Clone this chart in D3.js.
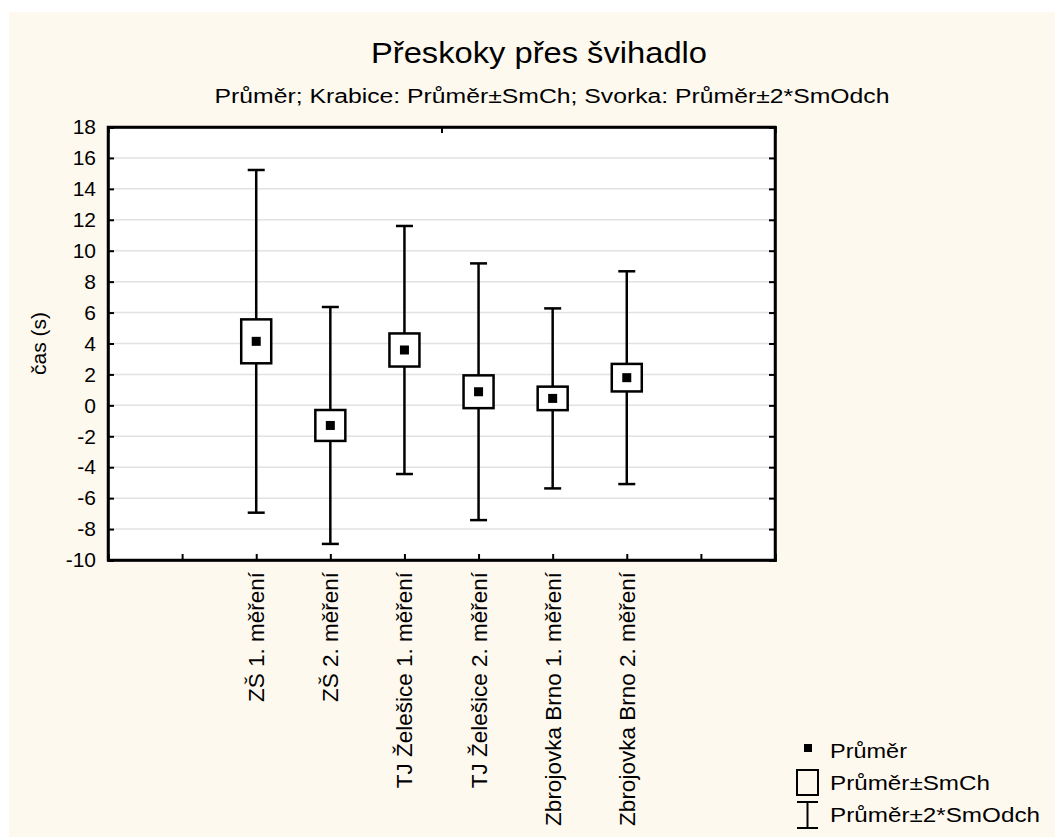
<!DOCTYPE html>
<html><head><meta charset="utf-8">
<script src="https://cdn.jsdelivr.net/npm/d3@7"></script>
<style>html,body{margin:0;padding:0;background:#fff}svg{display:block}</style>
</head><body>
<svg id="chart" width="1055" height="837"></svg>
<script>
const categories = ["ZŠ 1. měření","ZŠ 2. měření","TJ Želešice 1. měření","TJ Želešice 2. měření","Zbrojovka Brno 1. měření","Zbrojovka Brno 2. měření"];
const means = [4.14, -1.30, 3.58, 0.88, 0.45, 1.79];
const stdErr = [1.42, 1.00, 1.07, 1.06, 0.76, 0.89];
const stdDev = [5.54, 3.83, 4.01, 4.15, 2.91, 3.44];
const yTicks = [-10,-8,-6,-4,-2,0,2,4,6,8,10,12,14,16,18];
const titleText = "Přeskoky přes švihadlo";
const subtitleText = "Průměr; Krabice: Průměr±SmCh; Svorka: Průměr±2*SmOdch";
const yLabel = "čas (s)";
const legendLabels = ["Průměr","Průměr±SmCh","Průměr±2*SmOdch"];

const svg = d3.select("#chart");
const font = "Liberation Sans, Arial, sans-serif";
svg.append("rect").attr("x",9).attr("y",12).attr("width",1046).attr("height",825).attr("fill","#fef9ef");

const L=108, R=775, T=127, B=560;
const x = d3.scaleLinear().domain([0,9]).range([L,R]);
const y = d3.scaleLinear().domain([-10,18]).range([B,T]);

svg.append("rect").attr("x",L).attr("y",T).attr("width",R-L).attr("height",B-T).attr("fill","#fff");

// grid
svg.append("g").selectAll("line").data(yTicks.filter(v=>v>-10&&v<18)).join("line")
  .attr("x1",L).attr("x2",R).attr("y1",d=>y(d)).attr("y2",d=>y(d))
  .attr("stroke","#e2e2e2").attr("stroke-width",1.5);

// axes
const gl = svg.append("g").attr("transform",`translate(${L},0)`)
  .call(d3.axisLeft(y).tickValues(yTicks).tickSize(-6).tickPadding(12).tickFormat(d=>String(d)));
const gr = svg.append("g").attr("transform",`translate(${R},0)`)
  .call(d3.axisRight(y).tickValues(yTicks).tickSize(-6).tickFormat(""));
const gb = svg.append("g").attr("transform",`translate(0,${B})`)
  .call(d3.axisBottom(x).tickValues([1,2,3,4,5,6,7,8]).tickSize(-6).tickFormat(""));
const gt = svg.append("g").attr("transform",`translate(0,${T})`)
  .call(d3.axisTop(x).tickValues([4.5]).tickSize(-6).tickFormat(""));
[gl,gr,gb,gt].forEach(g=>{
  g.select(".domain").attr("stroke","#000").attr("stroke-width",2.5);
  g.selectAll(".tick line").attr("stroke","#000").attr("stroke-width",2);
});
gl.selectAll(".tick text").attr("font-family",font).attr("font-size",21).attr("fill","#000");
svg.append("rect").attr("x",L).attr("y",T).attr("width",R-L).attr("height",B-T)
  .attr("fill","none").attr("stroke","#000").attr("stroke-width",2.5);

// x labels
svg.append("g").selectAll("text").data(categories).join("text")
  .attr("transform",(d,i)=>`translate(${x(i+2)+8},${B+12}) rotate(-90)`)
  .attr("text-anchor","end").attr("font-family",font).attr("font-size",22.5).text(d=>d);

// marks
const data = categories.map((c,i)=>({i, m:means[i], se:stdErr[i], sd:stdDev[i]}));
const g = svg.append("g").attr("stroke","#000").attr("stroke-width",2.5);
data.forEach(d=>{
  const cx = x(d.i+2);
  g.append("line").attr("x1",cx).attr("x2",cx).attr("y1",y(d.m+2*d.sd)).attr("y2",y(d.m-2*d.sd));
  g.append("line").attr("x1",cx-8.5).attr("x2",cx+8.5).attr("y1",y(d.m+2*d.sd)).attr("y2",y(d.m+2*d.sd));
  g.append("line").attr("x1",cx-8.5).attr("x2",cx+8.5).attr("y1",y(d.m-2*d.sd)).attr("y2",y(d.m-2*d.sd));
  g.append("rect").attr("x",cx-15).attr("width",30).attr("y",y(d.m+d.se)).attr("height",y(d.m-d.se)-y(d.m+d.se)).attr("fill","#fff");
  g.append("rect").attr("x",cx-4.5).attr("y",y(d.m)-4.5).attr("width",9).attr("height",9).attr("fill","#000").attr("stroke","none");
});

// titles
svg.append("text").attr("x",539).attr("y",63).attr("text-anchor","middle")
  .attr("font-family",font).attr("font-size",29).attr("textLength",336).attr("lengthAdjust","spacingAndGlyphs").text(titleText);
svg.append("text").attr("x",552).attr("y",103).attr("text-anchor","middle")
  .attr("font-family",font).attr("font-size",20).attr("textLength",675).attr("lengthAdjust","spacingAndGlyphs").text(subtitleText);
svg.append("text").attr("transform",`translate(46,${(T+B)/2}) rotate(-90)`).attr("text-anchor","middle")
  .attr("font-family",font).attr("font-size",21).text(yLabel);

// legend
const legendLen = [77,160,210];
const lg = svg.append("g");
lg.append("rect").attr("x",804).attr("y",744).attr("width",8).attr("height",8).attr("fill","#000");
lg.append("rect").attr("x",797).attr("y",770).attr("width",21).attr("height",25).attr("fill","none").attr("stroke","#000").attr("stroke-width",2);
lg.append("line").attr("x1",807.5).attr("x2",807.5).attr("y1",802).attr("y2",828).attr("stroke","#000").attr("stroke-width",2);
lg.append("line").attr("x1",797).attr("x2",818).attr("y1",802).attr("y2",802).attr("stroke","#000").attr("stroke-width",2);
lg.append("line").attr("x1",797).attr("x2",818).attr("y1",828).attr("y2",828).attr("stroke","#000").attr("stroke-width",2);
lg.selectAll("text").data(legendLabels).join("text")
  .attr("x",830).attr("y",(d,i)=>758+i*32).attr("font-family",font).attr("font-size",20)
  .attr("textLength",(d,i)=>legendLen[i]).attr("lengthAdjust","spacingAndGlyphs").text(d=>d);
</script>
</body></html>
